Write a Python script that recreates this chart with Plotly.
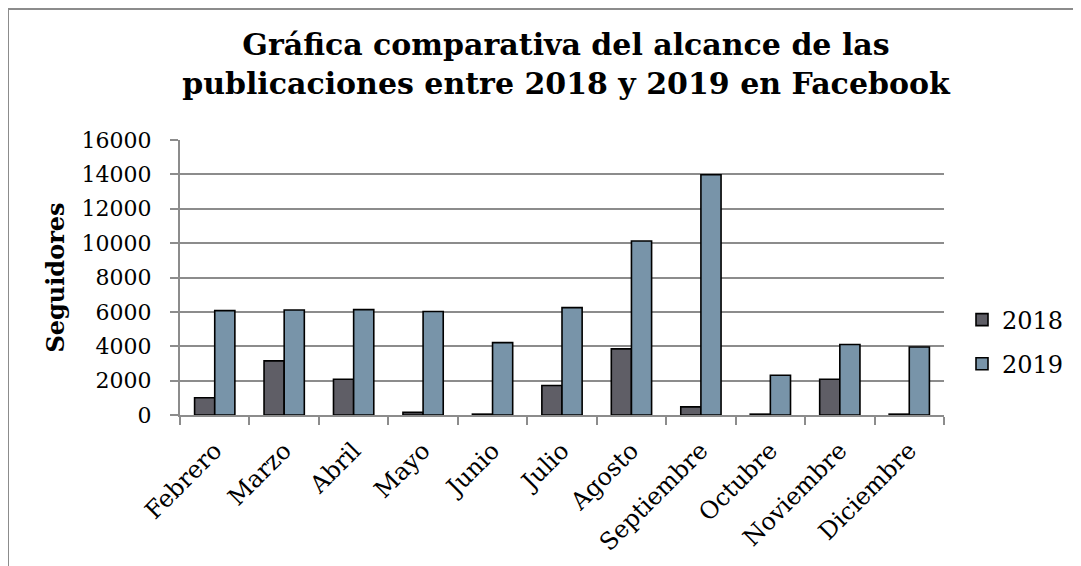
import plotly.graph_objects as go

months = ["Febrero", "Marzo", "Abril", "Mayo", "Junio", "Julio", "Agosto",
          "Septiembre", "Octubre", "Noviembre", "Diciembre"]
vals_2018 = [1000, 3150, 2080, 150, 50, 1720, 3850, 470, 50, 2080, 50]
vals_2019 = [6070, 6110, 6130, 6020, 4210, 6250, 10120, 13980, 2310, 4100, 3960]
y_ticks = [0, 2000, 4000, 6000, 8000, 10000, 12000, 14000, 16000]

FONT = "DejaVu Serif"
OFF = 8  # page body margin
W, H = 1081 - OFF, 566 - OFF
L, T = 180 - OFF, 140 - OFF
R = W - (944 - OFF)
B = H - (415 - OFF)
pw, ph = W - L - R, H - T - B

def px_x(px):  # page pixel -> paper
    return (px - OFF - L) / pw

def px_y(py):
    return (H - B - (py - OFF)) / ph

fig = go.Figure()
fig.add_trace(go.Bar(x=months, y=vals_2018, name="2018", legendgroup="a",
                     marker=dict(color="#5f5e66", line=dict(color="black", width=1.6))))
fig.add_trace(go.Bar(x=months, y=vals_2019, name="2019", legendgroup="b",
                     marker=dict(color="#7894a9", line=dict(color="black", width=1.6))))

fig.update_layout(
    width=W, height=H,
    margin=dict(l=L, r=R, t=T, b=B, autoexpand=False),
    plot_bgcolor="white", paper_bgcolor="white",
    barmode="group", bargap=0.42, bargroupgap=0,
    font=dict(family=FONT, color="black", size=20),
    title=dict(text="<b>Gráfica comparativa del alcance de las<br>publicaciones entre 2018 y 2019 en Facebook</b>",
               x=0.520, xref="container", xanchor="center",
               y=1 - 47 / H, yref="container", yanchor="top",
               font=dict(family=FONT, size=30, color="black")),
    legend=dict(x=px_x(962), xanchor="left", y=px_y(342), yanchor="middle",
                font=dict(family=FONT, size=24), tracegroupgap=10, itemwidth=30,
                bgcolor="rgba(0,0,0,0)"),
    showlegend=True,
)
fig.update_yaxes(range=[0, 16000], tickvals=y_ticks, ticktext=[str(v) for v in y_ticks],
                 automargin=False,
                 showgrid=True, gridcolor="#8c8c8c", gridwidth=1.5,
                 showline=True, linecolor="#8c8c8c", linewidth=2,
                 ticks="outside", ticklen=8, tickcolor="#8c8c8c", tickwidth=1.5,
                 ticklabelstandoff=14,
                 tickfont=dict(family=FONT, size=22), zeroline=False,
                 title=dict(text="<b>Seguidores</b>", font=dict(family=FONT, size=24), standoff=10))
fig.update_xaxes(automargin=False, showline=True, linecolor="#8c8c8c", linewidth=2,
                 ticks="outside", tickson="boundaries", ticklen=8, tickcolor="#8c8c8c", tickwidth=1.5,
                 ticklabelstandoff=10,
                 tickangle=-45, tickfont=dict(family=FONT, size=24))

# outer chart frame
fig.add_shape(type="rect", xref="paper", yref="paper",
              x0=px_x(8), x1=px_x(1075), y0=px_y(620), y1=px_y(9),
              line=dict(color="#8c8c8c", width=2), fillcolor="rgba(0,0,0,0)", layer="below")

fig.write_html("out.html")
